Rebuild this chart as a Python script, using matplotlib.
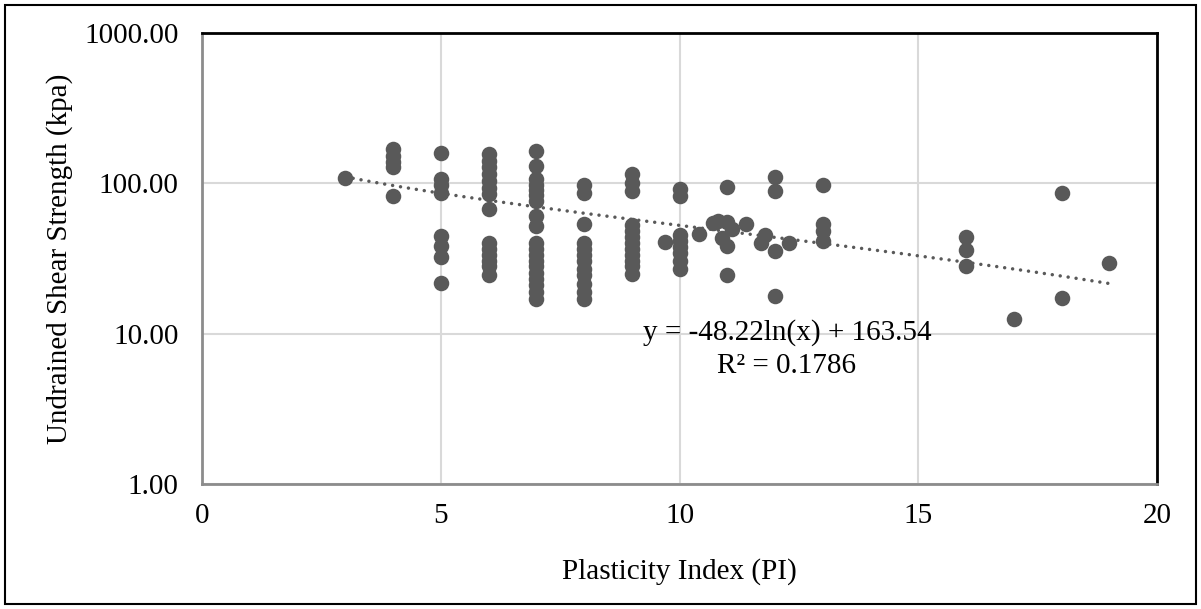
import numpy as np
import matplotlib.pyplot as plt
from matplotlib.patches import Rectangle
from matplotlib.ticker import FixedLocator, FuncFormatter

# plasticity index and undrained shear strength (kPa), one list per PI group
pi_3 = [3]
su_3 = [108]
pi_4 = [4] * 5
su_4 = [168, 151, 139, 128, 82]
pi_5 = [5] * 8
su_5 = [160, 107, 98, 86, 44.5, 38.5, 32.5, 21.8]
pi_6 = [6] * 14
su_6 = [157, 141, 129, 116, 104, 93, 85, 67.6, 40, 36.5, 33.5, 30.5, 28, 24.6]
pi_7 = [7] * 19
su_7 = [164, 130, 107, 98, 90, 83, 76, 61, 52,
        40, 36.5, 33.5, 30.5, 28, 25.5, 23, 21, 19, 17]
pi_8 = [8] * 12
su_8 = [98, 86.5, 54, 40, 36.5, 33.5, 30.5, 27, 24.5, 21.5, 19, 17]
pi_9 = [9] * 12
su_9 = [116, 100, 89, 53, 48, 44, 40, 36.5, 33.5, 30.5, 28, 25]
pi_10 = [10] * 8
su_10 = [92, 82, 45.5, 41.5, 38, 34.5, 30.5, 27]
pi_mid = [9.7, 10.4, 10.7, 10.8, 11.0, 11.1, 10.9, 11.0, 11.0, 11.0, 11.4,
          11.7, 11.8, 12.0, 12.3, 12.0, 12.0, 12.0]
su_mid = [41, 46, 54.5, 56, 55, 50, 43, 38.5, 95, 24.5, 54,
          40, 45, 35.5, 40, 110, 89, 17.8]
pi_hi = [13, 13, 13, 13, 16, 16, 16, 17, 18, 18, 19]
su_hi = [98, 54, 48, 41.5, 44, 36, 28, 12.6, 86.5, 17.3, 29.6]

pi = pi_3 + pi_4 + pi_5 + pi_6 + pi_7 + pi_8 + pi_9 + pi_10 + pi_mid + pi_hi
su = su_3 + su_4 + su_5 + su_6 + su_7 + su_8 + su_9 + su_10 + su_mid + su_hi

# logarithmic trendline y = a ln(x) + b
a, b = -48.22, 163.54
r2 = 0.1786

plt.rcParams['font.family'] = 'Liberation Serif'
fs = 21

fig = plt.figure(figsize=(12.01, 6.09), dpi=100)
ax = fig.add_axes([202 / 1201, 1 - 484 / 609, 955 / 1201, 451 / 609])

ax.scatter(pi, su, s=125, color='#595959', zorder=3, linewidths=0)

xt = np.linspace(min(pi), max(pi), 200)
ax.plot(xt, a * np.log(xt) + b, color='#595959', lw=2.5,
        linestyle=(0, (0.01, 2.3)), dash_capstyle='round', zorder=2)

ax.set_yscale('log')
ax.set_xlim(0, 20)
ax.set_ylim(1, 1000)
ax.xaxis.set_major_locator(FixedLocator([0, 5, 10, 15, 20]))
ax.yaxis.set_major_locator(FixedLocator([1, 10, 100, 1000]))
ax.yaxis.set_minor_locator(FixedLocator([]))
ax.yaxis.set_major_formatter(FuncFormatter(lambda v, p: f'{v:.2f}'))
ax.tick_params(axis='x', length=0, pad=14, labelsize=fs)
ax.tick_params(axis='y', length=0, pad=17, labelsize=fs)
ax.grid(True, color='#d9d9d9', lw=1.5)
ax.set_axisbelow(True)

for side in ['left', 'bottom']:
    ax.spines[side].set_color('#8c8c8c')
    ax.spines[side].set_linewidth(2)
for side in ['top', 'right']:
    ax.spines[side].set_color('black')
    ax.spines[side].set_linewidth(2)

ax.set_xlabel('Plasticity Index (PI)', fontsize=fs, va='center')
ax.set_ylabel('Undrained Shear Strength (kpa)', fontsize=fs, va='center')
ax.xaxis.set_label_coords(0.5, -(572 - 484) / 451)
ax.yaxis.set_label_coords((60 - 202) / 955, 0.5)

ax.text(12.25, 10.1, f'y = {a:.2f}ln(x) + {b:.2f}', ha='center',
        va='center', fontsize=fs)
ax.text(12.25, 6.1, f'R² = {r2:.4f}', ha='center', va='center', fontsize=fs)

fig.patches.append(Rectangle((5 / 1201, 5 / 609), 1191 / 1201, 599 / 609,
                             transform=fig.transFigure, fill=False,
                             edgecolor='black', lw=1.5))

fig.savefig('out.png', dpi=100)
